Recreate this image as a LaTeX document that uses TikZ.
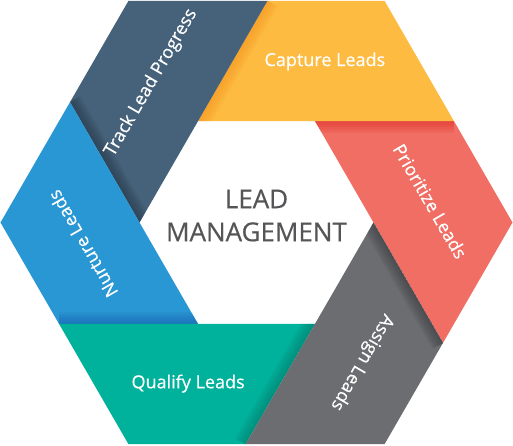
\documentclass[tikz,border=0pt]{standalone}
\usepackage{fontspec}
\setmainfont{Open Sans}
\newfontfamily\heavyfont{Open Sans}[FakeBold=0.5]
\usetikzlibrary{calc}
\definecolor{CaptureYellow}{RGB}{253,187,65}
\definecolor{CaptureShade}{RGB}{247,148,30}
\definecolor{TrackSlate}{RGB}{70,98,122}
\definecolor{TrackShade}{RGB}{35,52,68}
\definecolor{NurtureBlue}{RGB}{42,151,213}
\definecolor{NurtureShade}{RGB}{20,95,170}
\definecolor{QualifyTeal}{RGB}{0,177,155}
\definecolor{QualifyShade}{RGB}{0,125,110}
\definecolor{AssignGray}{RGB}{108,109,112}
\definecolor{AssignShade}{RGB}{55,56,58}
\definecolor{PrioritizeRed}{RGB}{240,110,99}
\definecolor{PrioritizeShade}{RGB}{225,45,38}
\definecolor{CentreGray}{RGB}{85,85,87}

\begin{document}
\begin{tikzpicture}[x=1pt, y=1pt,
		seglabel/.style={text=white, inner sep=0pt, font=\heavyfont\fontsize{18}{20}\selectfont},
		centretext/.style={text=CentreGray, align=center, font=\heavyfont\fontsize{26}{33}\selectfont}]
		\useasboundingbox (-256.5,-222.5) rectangle (256.5,222.5);
		\def\R{256}
		\def\r{117}
		% outer corners, inner corners, and where each inner side runs out
		\foreach \k in {0,...,5} {
			\coordinate (O\k) at (60*\k:\R);
			\coordinate (I\k) at (60*\k:\r);
			\coordinate (P\k) at ($(I\k)+(60*\k-60:\R-\r)$);
		}
		% the six segments, each darkened along the side its neighbour lies on
		\foreach \k/\col/\shd in {0/PrioritizeRed/PrioritizeShade, 1/CaptureYellow/CaptureShade,
				2/TrackSlate/TrackShade, 3/NurtureBlue/NurtureShade,
				4/QualifyTeal/QualifyShade, 5/AssignGray/AssignShade} {
			\pgfmathtruncatemacro\n{mod(\k+1,6)}
			\fill[\col] (P\n) -- (O\k) -- (P\k) -- (I\k) -- (I\n) -- cycle;
			\begin{scope}
				\clip (P\n) -- (O\k) -- (P\k) -- (I\k) -- (I\n) -- cycle;
				\foreach \w in {2,4,...,12}
				\fill[\shd, opacity=0.12] (I\n) -- (P\n) -- ($(P\n)+(60*\k-90:\w)$) -- ($(I\n)+(60*\k-90:\w)$) -- cycle;
			\end{scope}
		}
		\foreach \k/\txt/\rot in {0/Prioritize Leads/-60, 1/Capture Leads/0, 2/Track Lead Progress/60,
				3/Nurture Leads/120, 4/Qualify Leads/0, 5/Assign Leads/-120}
		\node[seglabel, rotate=\rot] (L\k) at (60*\k+7:175) {\txt};
		\node[centretext] (title) at (0,7) {LEAD\\MANAGEMENT};
	\end{tikzpicture}
\end{document}
